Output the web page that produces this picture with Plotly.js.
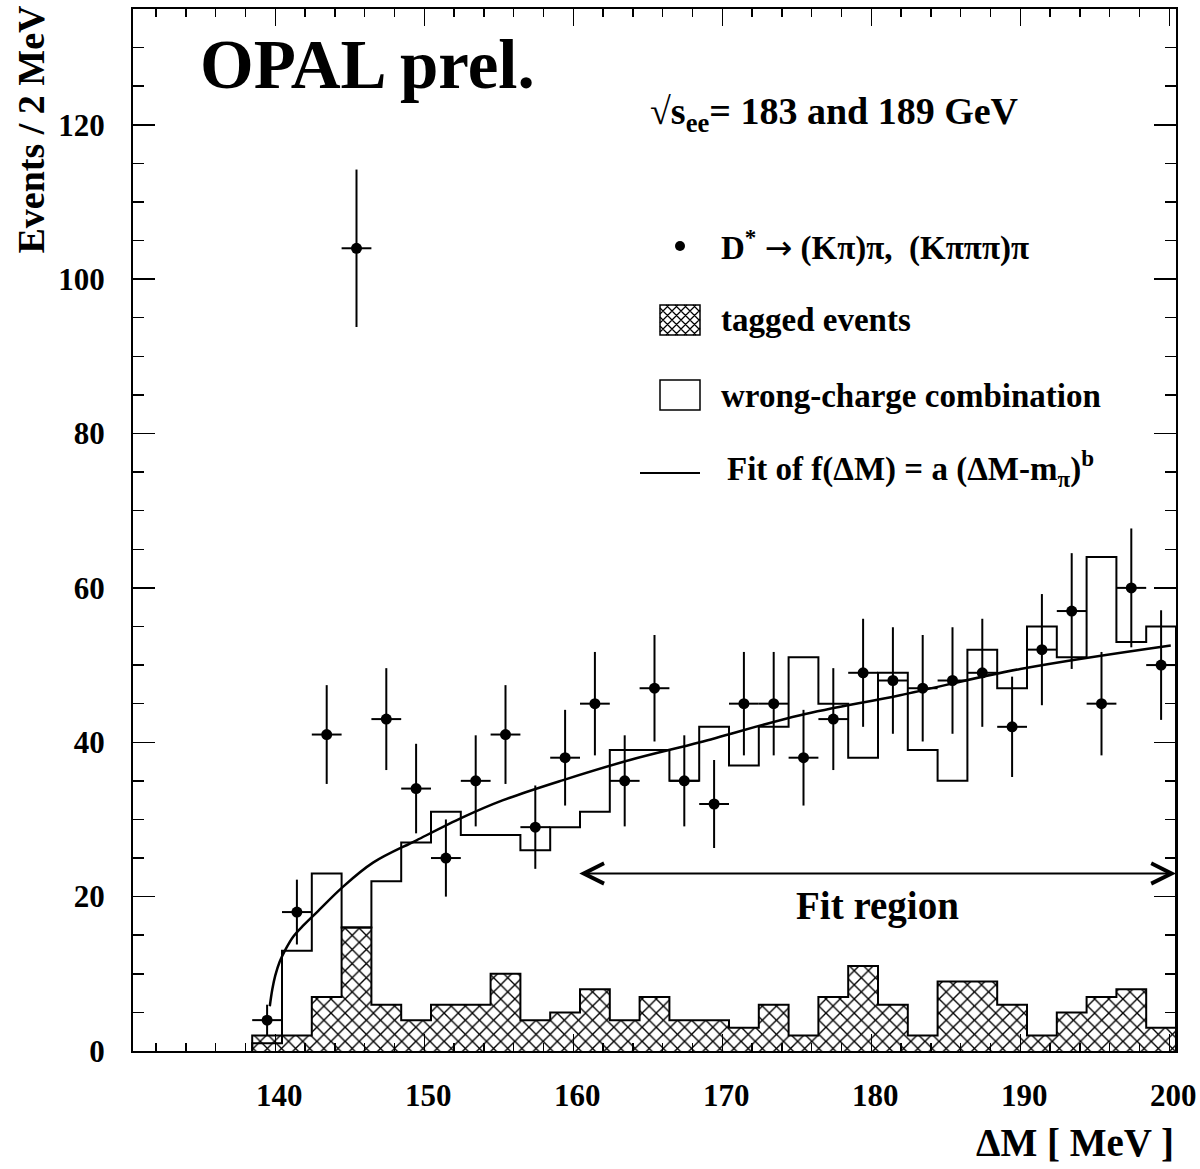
<!DOCTYPE html>
<html><head><meta charset="utf-8">
<script src="https://cdn.plot.ly/plotly-3.0.1.min.js"></script>
<style>html,body{margin:0;padding:0;background:#fff}#chart{width:1200px;height:1169px}</style>
</head><body><div id="chart"></div>
<script>
// Bin centres (ΔM, MeV), 2 MeV bins
const binCenters = [139.45,141.45,143.45,145.45,147.45,149.45,151.45,153.45,155.45,157.45,
  159.45,161.45,163.45,165.45,167.45,169.45,171.45,173.45,175.45,177.45,
  179.45,181.45,183.45,185.45,187.45,189.45,191.45,193.45,195.45,197.45,199.45];
const binHalfWidth = 1;
// D* candidates (points)
const dataCounts = [4,18,41,104,43,34,25,35,41,29,38,45,35,47,35,32,45,45,38,43,49,48,47,48,49,42,52,57,45,60,50];
const dataErrors = [2.0,4.2,6.4,10.2,6.6,5.8,5.0,5.9,6.4,5.4,6.2,6.7,5.9,6.9,5.9,5.7,6.7,6.7,6.2,6.6,7.0,6.9,6.9,6.9,7.0,6.5,7.2,7.5,6.7,7.7,7.1];
// wrong-charge combination (open histogram)
const wrongCharge = [1,13,23,16,22,27,31,28,28,26,29,31,39,39,35,42,37,42,51,45,38,49,39,35,52,47,55,51,64,53,55];
// tagged events (hatched histogram)
const tagged = [2,2,7,16,6,4,6,6,10,4,5,8,4,7,4,4,3,6,2,7,11,6,2,9,9,6,2,5,7,8,3];
// fit curve
const fitX = [139.63,139.8,140.0,140.3,140.7,141.2,141.9,142.8,144.5,146.56,149.48,152.61,155.29,159.32,163.8,168.5,175.22,181.93,190.0,200.1];
const fitY = [5.8,8.0,9.8,11.6,13.2,14.8,16.3,18.0,21.2,24.4,27.3,30.3,32.5,35.1,37.7,40.0,43.5,46.1,49.5,52.55];
// fit region arrow
const fitRegion = [160.3, 200.45];
const fitRegionY = 23;
const xRange = [130.45, 200.45];
const yRange = [0, 135];

function steps(vals){
  const x=[binCenters[0]-binHalfWidth], y=[0];
  for(let i=0;i<vals.length;i++){ x.push(binCenters[i]-binHalfWidth); y.push(vals[i]); }
  const last = binCenters[binCenters.length-1]+binHalfWidth;
  x.push(last); y.push(vals[vals.length-1]);
  x.push(last); y.push(0);
  return {x,y};
}
const tg = steps(tagged), wc = steps(wrongCharge);

const FONT = 'Liberation Serif, Times New Roman, serif';
const traces = [
  {type:'scatter', mode:'lines', x:tg.x, y:tg.y, line:{shape:'hv', color:'#000', width:2},
   fill:'tozeroy', fillcolor:'#fff',
   fillpattern:{shape:'x', size:10, solidity:0.25, fgcolor:'#000', bgcolor:'#fff'}, hoverinfo:'skip'},
  {type:'scatter', mode:'lines', x:wc.x, y:wc.y, line:{shape:'hv', color:'#000', width:2}, hoverinfo:'skip'},
  {type:'scatter', mode:'lines', x:fitX, y:fitY, line:{shape:'spline', smoothing:1, color:'#000', width:2.5}},
  {type:'scatter', mode:'markers', x:binCenters, y:dataCounts,
   marker:{symbol:'circle', size:11, color:'#000'},
   error_y:{type:'data', array:dataErrors, visible:true, color:'#000', thickness:2, width:0},
   error_x:{type:'constant', value:binHalfWidth, visible:true, color:'#000', thickness:2, width:0}}
];

const L=133, T=9, W=1043, H=1042;
const xp = px => (px-L)/W;
const yp = py => (T+H-py)/H;

function hatchPath(x0,y0,x1,y1,sp){
  let d='';
  const h=y1-y0;
  for(let c=x0-h; c<x1; c+=sp){
    let ts=Math.max(0,x0-c), te=Math.min(h,x1-c);
    if(ts<te){
      d+=`M${xp(c+ts)},${yp(y1-ts)}L${xp(c+te)},${yp(y1-te)}`;
      d+=`M${xp(c+ts)},${yp(y0+ts)}L${xp(c+te)},${yp(y0+te)}`;
    }
  }
  return d;
}

const shapes = [
  {type:'circle', xref:'paper', yref:'paper', x0:xp(675), x1:xp(685), y0:yp(251), y1:yp(241), fillcolor:'#000', line:{width:0}},
  {type:'path', xref:'paper', yref:'paper', path:hatchPath(660,305,700,335,9), line:{color:'#000', width:1.2}},
  {type:'rect', xref:'paper', yref:'paper', x0:xp(660), x1:xp(700), y0:yp(335), y1:yp(305), line:{color:'#000', width:1.5}},
  {type:'rect', xref:'paper', yref:'paper', x0:xp(660), x1:xp(700), y0:yp(410), y1:yp(380), line:{color:'#000', width:1.5}},
  {type:'line', xref:'paper', yref:'paper', x0:xp(640), x1:xp(700), y0:yp(473), y1:yp(473), line:{color:'#000', width:2}}
];

const tf = (s)=>({family:FONT, size:s, color:'#000', weight:'bold'});
const ARROW = '<span style="font-family:DejaVu Sans;font-weight:normal">→</span>';
const annotations = [
  {xref:'paper', yref:'paper', x:xp(198), y:yp(65), xanchor:'left', yanchor:'middle', text:'OPAL prel.', showarrow:false, font:tf(69)},
  {xref:'paper', yref:'paper', x:xp(648), y:yp(114), xanchor:'left', yanchor:'middle', text:'√s<sub>ee</sub>= 183 and 189 GeV', showarrow:false, font:tf(38)},
  {xref:'paper', yref:'paper', x:xp(719), y:yp(246), xanchor:'left', yanchor:'middle', text:'D<sup>*</sup> '+ARROW+' (Kπ)π,  (Kπππ)π', showarrow:false, font:tf(33)},
  {xref:'paper', yref:'paper', x:xp(719), y:yp(320), xanchor:'left', yanchor:'middle', text:'tagged events', showarrow:false, font:tf(33)},
  {xref:'paper', yref:'paper', x:xp(719), y:yp(396), xanchor:'left', yanchor:'middle', text:'wrong-charge combination', showarrow:false, font:tf(33)},
  {xref:'paper', yref:'paper', x:xp(725), y:yp(468), xanchor:'left', yanchor:'middle', text:'Fit of f(ΔM) = a (ΔM-m<sub>π</sub>)<sup>b</sup>', showarrow:false, font:tf(33)},
  {xref:'paper', yref:'paper', x:xp(877), y:yp(906), xanchor:'center', yanchor:'middle', text:'Fit region', showarrow:false, font:tf(39)},
  {xref:'paper', yref:'paper', x:1.0, y:yp(1142), xanchor:'right', yanchor:'middle', text:'ΔM [ MeV ]', showarrow:false, font:tf(39)},
  {xref:'paper', yref:'paper', x:xp(30), y:yp(3), xanchor:'center', yanchor:'top', textangle:-90, text:'Events / 2 MeV', showarrow:false, font:tf(38)},
  {xref:'x', yref:'y', axref:'x', ayref:'y', x:fitRegion[1], y:fitRegionY, ax:fitRegion[0], ay:fitRegionY, text:'', showarrow:true,
   arrowhead:5, startarrowhead:5, arrowside:'end+start', arrowsize:2, startarrowsize:2, arrowwidth:2, arrowcolor:'#000'}
];

const axisCommon = {showline:true, linecolor:'#000', linewidth:2, mirror:'allticks', ticks:'inside',
  tickcolor:'#000', tickwidth:1.5, showgrid:false, zeroline:false,
  tickfont:{family:FONT, size:31, color:'#000', weight:'bold'}};

const layout = {
  width:1200, height:1169, margin:{l:L, r:1200-L-W, t:T, b:1169-T-H},
  paper_bgcolor:'#fff', plot_bgcolor:'#fff', showlegend:false,
  xaxis:Object.assign({}, axisCommon, {range:xRange, tick0:0, dtick:10, ticklen:17, ticklabelstandoff:16, ticklabelshift:4,
    minor:{dtick:2, tick0:0, ticks:'inside', ticklen:8, tickcolor:'#000', tickwidth:1.5, showgrid:false}}),
  yaxis:Object.assign({}, axisCommon, {range:yRange, tick0:0, dtick:20, ticklen:22, ticklabelstandoff:20,
    minor:{dtick:5, tick0:0, ticks:'inside', ticklen:11, tickcolor:'#000', tickwidth:1.5, showgrid:false}}),
  shapes, annotations
};
Plotly.newPlot('chart', traces, layout, {displayModeBar:false, staticPlot:true});
</script></body></html>
